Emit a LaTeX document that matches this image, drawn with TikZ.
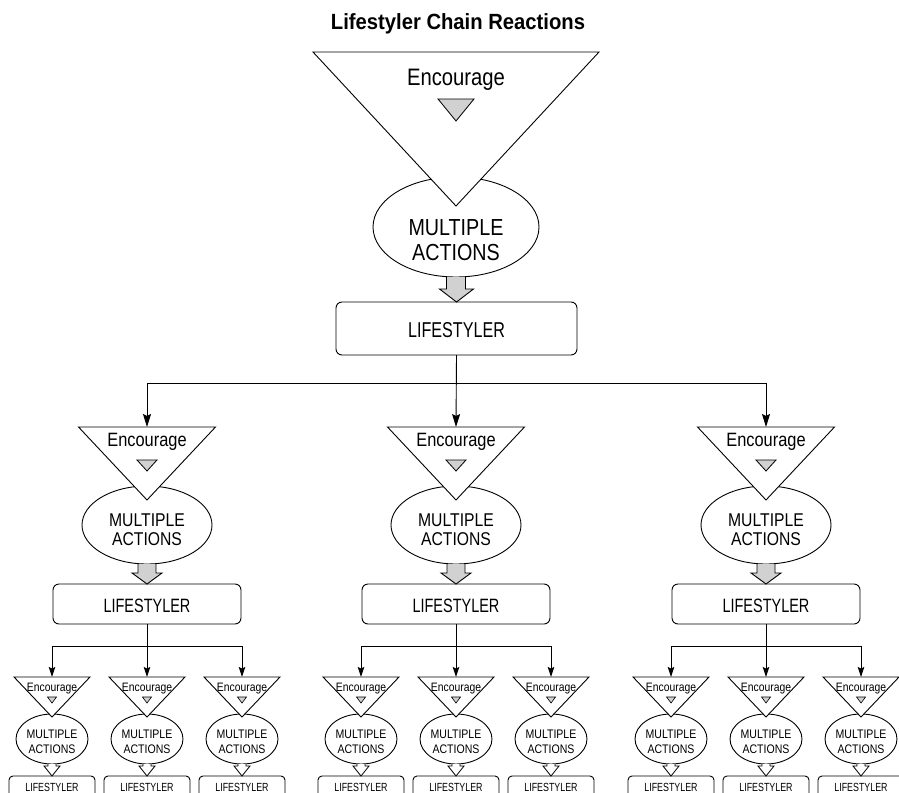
\documentclass[tikz,border=0pt]{standalone}
\usepackage{fontspec}
\setmainfont{Liberation Sans}[FakeStretch=0.85]
\newfontfamily\titlefont{Liberation Sans}[FakeStretch=0.92]
\newfontfamily\narrowfont{Liberation Sans}[FakeStretch=0.75]
\usetikzlibrary{shapes.geometric,arrows.meta}

\tikzset{
  outline/.style={draw=black, line width=0.9pt},
  oval/.style={outline, ellipse, fill=white, inner sep=0pt, outer sep=0pt},
  funnel/.style={outline, fill=white, line join=miter},
  pointer/.style={outline, fill=black!18, line width=0.8pt, line join=miter},
  card/.style={outline, rounded corners=6pt, fill=white, inner sep=0pt, outer sep=0pt},
  lbl/.style={inner sep=0pt, anchor=base},
  greyarrow/.style={outline, fill=black!18, line join=miter},
  whitearrow/.style={outline, fill=white, line width=0.8pt, line join=miter},
  feed/.style={line width=0.9pt, -{Stealth[length=13pt,width=8pt,inset=2pt]}},
  feedsmall/.style={line width=0.9pt, -{Stealth[length=10pt,width=6.5pt,inset=1.5pt]}},
}

% block arrow from the bottom of an ellipse to the top of a box
% #1 from, #2 to, #3 shaft half width, #4 head half width, #5 head length, #6 style
\newcommand\blockarrow[6]{%
  \draw[#6] ([xshift=-#3]#1.south) |- ([xshift=-#4,yshift=#5]#2.north)
    -- (#2.north) -- ([xshift=#4,yshift=#5]#2.north) -| ([xshift=#3]#1.south);
}

% second tier: #1 name, #2 centre x
\newcommand\midunit[2]{%
  \node[oval, minimum width=130pt, minimum height=78pt] (e#1) at (#2,525) {};
  \draw[funnel] (#2-68.5,427) -- (#2+68.5,427) -- (#2,500) -- cycle;
  \coordinate (t#1) at (#2,427);
  \node[lbl, font=\fontsize{19.3}{20}\selectfont] (enc#1) at (#2,446) {Encourage};
  \draw[pointer] (#2-10,460) -- (#2+10,460) -- (#2,471) -- cycle;
  \node[lbl, font=\fontsize{18.5}{20}\selectfont] (m#1) at (#2,526) {MULTIPLE};
  \node[lbl, font=\fontsize{18.5}{20}\selectfont] (a#1) at (#2,545) {ACTIONS};
  \node[card, minimum width=188pt, minimum height=40pt] (b#1) at (#2,604) {};
  \node[lbl, font=\narrowfont\fontsize{19.3}{20}\selectfont] (l#1) at (#2,612) {LIFESTYLER};
  \blockarrow{e#1}{b#1}{9}{15}{11}{greyarrow}
}

% third tier: #1 name, #2 centre x
\newcommand\lowunit[2]{%
  \node[oval, minimum width=72pt, minimum height=50pt] (e#1) at (#2,739) {};
  \draw[funnel] (#2-38,677) -- (#2+38,677) -- (#2,717) -- cycle;
  \coordinate (t#1) at (#2,677);
  \node[lbl, font=\fontsize{12.2}{13}\selectfont] (enc#1) at (#2,691) {Encourage};
  \draw[pointer, line width=0.6pt] (#2-4.5,697) -- (#2+4.5,697) -- (#2,703) -- cycle;
  \node[lbl, font=\fontsize{12.4}{13}\selectfont] (m#1) at (#2,738) {MULTIPLE};
  \node[lbl, font=\fontsize{12.4}{13}\selectfont] (a#1) at (#2,753) {ACTIONS};
  \node[card, rounded corners=4pt, minimum width=86pt, minimum height=28pt] (b#1) at (#2,790) {};
  \node[lbl, font=\narrowfont\fontsize{11.8}{12}\selectfont] (l#1) at (#2,791) {LIFESTYLER};
  \blockarrow{e#1}{b#1}{4}{8}{10}{whitearrow}
}

% a second-tier unit with its three third-tier children
\newcommand\branch[2]{%
  \midunit{#1}{#2}
  \lowunit{#1a}{#2-95}
  \lowunit{#1b}{#2}
  \lowunit{#1c}{#2+95}
  \coordinate (j#1) at (#2,646);
  \draw[feedsmall] (b#1.south) -- (t#1b);
  \draw[feedsmall] (j#1) -| (t#1a);
  \draw[feedsmall] (j#1) -| (t#1c);
}

\begin{document}
\begin{tikzpicture}[x=1pt, y=-1pt]
  \useasboundingbox (0,0) rectangle (899,792);
  \clip (0,0) rectangle (899,792);

  \node[lbl, font=\titlefont\bfseries\fontsize{22}{24}\selectfont] (title) at (458,30)
    {Lifestyler Chain Reactions};

  % first tier
  \node[oval, minimum width=166pt, minimum height=100pt] (e0) at (456,227) {};
  \draw[funnel] (313,52) -- (599,52) -- (456,206) -- cycle;
  \node[lbl, font=\fontsize{23.8}{25}\selectfont] (enc0) at (456,85) {Encourage};
  \draw[pointer] (438,99) -- (474,99) -- (456,121) -- cycle;
  \node[lbl, font=\fontsize{23.2}{25}\selectfont] (m0) at (456,235) {MULTIPLE};
  \node[lbl, font=\fontsize{23.2}{25}\selectfont] (a0) at (456,260) {ACTIONS};
  \node[card, minimum width=241pt, minimum height=53pt] (b0) at (456.5,328.5) {};
  \node[lbl, font=\narrowfont\fontsize{21.5}{22}\selectfont] (l0) at (456.5,337) {LIFESTYLER};
  \blockarrow{e0}{b0}{9.5}{17}{13}{greyarrow}

  % second and third tiers
  \branch{L}{147}
  \branch{M}{456}
  \branch{R}{766}

  % links from the first tier
  \coordinate (j0) at (456,383);
  \draw[feed] (b0.south) -- (tM);
  \draw[feed] (j0) -| (tL);
  \draw[feed] (j0) -| (tR);
\end{tikzpicture}
\end{document}
